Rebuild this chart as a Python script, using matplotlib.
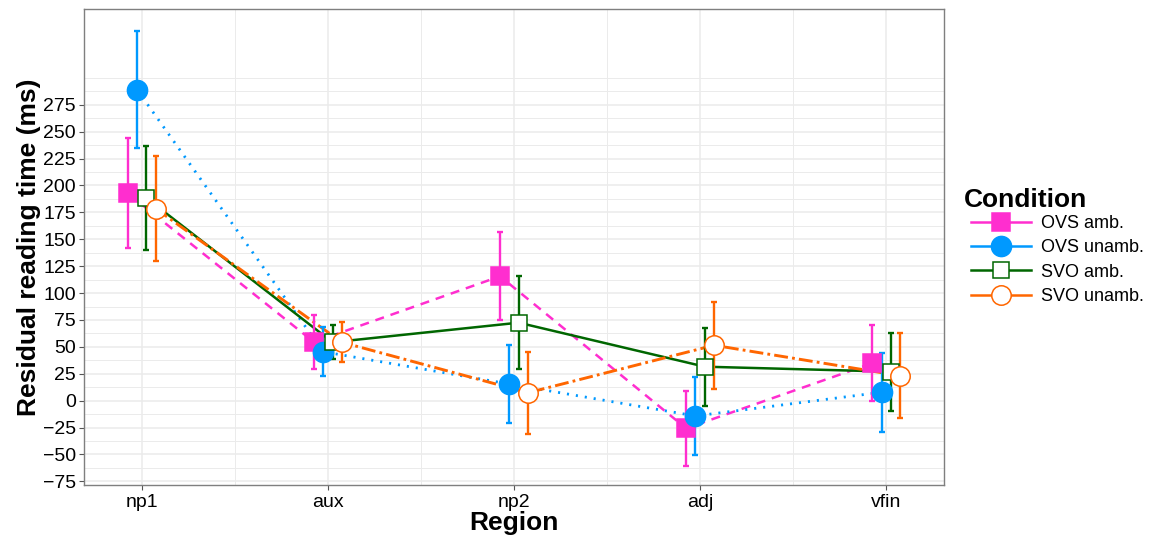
import matplotlib
matplotlib.use("Agg")
import matplotlib.pyplot as plt
from matplotlib.lines import Line2D
import numpy as np

plt.rcParams['font.family'] = ['Liberation Sans', 'DejaVu Sans']
plt.rcParams['lines.scale_dashes'] = False

# Data
regions = ['np1', 'aux', 'np2', 'adj', 'vfin']
conditions = ['OVS amb.', 'OVS unamb.', 'SVO amb.', 'SVO unamb.']

ovs_amb = [192.7, 54.5, 115.6, -25.7, 34.8]
ovs_amb_err = [51, 25, 41, 35, 35.3]
ovs_unamb = [289, 45.5, 15.5, -14.2, 7.8]
ovs_unamb_err = [54.5, 23, 36, 36, 36.7]
svo_amb = [188.4, 54.3, 72.5, 31.6, 27]
svo_amb_err = [48.3, 16, 43.3, 36.3, 36.2]
svo_unamb = [178.5, 54.3, 7.4, 51.5, 23.2]
svo_unamb_err = [48.5, 18.5, 38, 40.3, 39.6]

means = [ovs_amb, ovs_unamb, svo_amb, svo_unamb]
errs = [ovs_amb_err, ovs_unamb_err, svo_amb_err, svo_unamb_err]

colors = ['#FF2ECF', '#0099FF', '#006600', '#FF6600']
markers = ['s', 'o', 's', 'o']
msizes = [13, 14.5, 12, 14]
faces = ['#FF2ECF', '#0099FF', 'white', 'white']
styles = [(0, (6.5, 5)), (0, (1.5, 5.0)), '-', (0, (10, 3, 2, 3))]
lws = [1.8, 2.0, 1.8, 2.1]
offsets = [-0.075, -0.025, 0.025, 0.075]

fig = plt.figure(figsize=(11.53, 5.38), dpi=100)
ax = fig.add_axes([0.0729, 0.098, 0.8187 - 0.0729, 0.9833 - 0.098])

x = np.arange(1, len(regions) + 1)

# lines
for i in range(4):
    ax.plot(x + offsets[i], means[i], color=colors[i], linestyle=styles[i],
            lw=lws[i], zorder=2, dash_capstyle='butt')
# error bars
for i in range(4):
    ax.errorbar(x + offsets[i], means[i], yerr=errs[i], fmt='none',
                ecolor=colors[i], elinewidth=1.7, capsize=1.9, capthick=1.7,
                zorder=3)
# points
for i in range(4):
    ax.plot(x + offsets[i], means[i], linestyle='none', marker=markers[i],
            markersize=msizes[i], markerfacecolor=faces[i],
            markeredgecolor=colors[i], markeredgewidth=1.1, zorder=4 + i)

ax.set_xlim(0.69, 5.31)
ax.set_ylim(-78.6, 364)
ax.set_xticks(x)
ax.set_xticklabels(regions)
ax.set_xticks(x[:-1] + 0.5, minor=True)
ax.set_yticks(np.arange(-75, 276, 25))
ax.set_yticks([v for v in np.arange(-75, 300.1, 12.5) if v % 25 != 0 or v > 275],
              minor=True)
ax.grid(True, which='major', color='#EBEBEB', lw=1.1)
ax.grid(True, which='minor', color='#EBEBEB', lw=0.7)
ax.set_axisbelow(True)

ax.tick_params(which='major', length=3.5, color='#555555', labelsize=14,
               labelcolor='black', pad=2.5)
ax.tick_params(which='minor', length=0)
for s in ax.spines.values():
    s.set_color('#7F7F7F')
    s.set_linewidth(1.0)

ax.set_xlabel('Region', fontsize=19, fontweight='bold', labelpad=0)
ax.set_ylabel('Residual reading time (ms)', fontsize=19, fontweight='bold',
              labelpad=1.5)

# legend
fig.text(964 / 1153, 1 - 207 / 538, 'Condition', fontsize=19,
         fontweight='bold', ha='left', va='baseline')
handles = [Line2D([], [], color=colors[i], lw=1.8, marker=markers[i],
                  markersize=msizes[i], markerfacecolor=faces[i],
                  markeredgecolor=colors[i], markeredgewidth=1.1)
           for i in range(4)]
leg = fig.legend(handles, conditions, loc='center left',
                 bbox_to_anchor=(970.5 / 1153, 1 - 260 / 538), frameon=False,
                 fontsize=13, handlelength=3.34, handletextpad=0.54,
                 labelspacing=0.4, borderaxespad=0, borderpad=0)

fig.savefig('out.png', dpi=100)
